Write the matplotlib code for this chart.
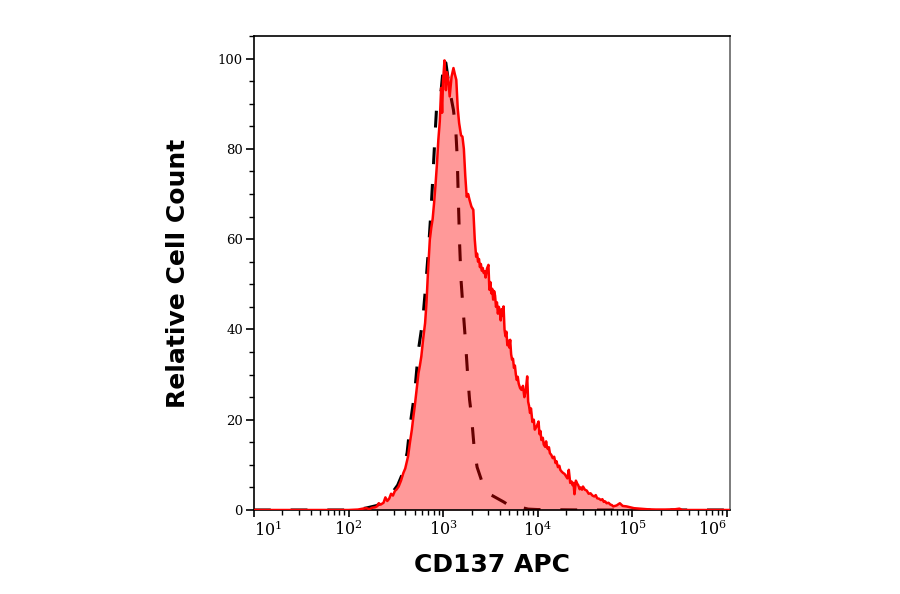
import numpy as np
import matplotlib
matplotlib.use("Agg")
import matplotlib.pyplot as plt
from matplotlib.ticker import FixedLocator, MultipleLocator, NullFormatter

# CD137 APC stained sample (log10 of fluorescence, relative count)
red_log = [1.00, 1.50, 2.00, 2.10, 2.15, 2.19, 2.22, 2.25, 2.28, 2.30, 2.32, 2.34, 2.37, 2.39,
           2.41, 2.43, 2.45, 2.47, 2.49, 2.51, 2.53, 2.555, 2.58, 2.60, 2.615, 2.63, 2.65, 2.67,
           2.685, 2.70, 2.72, 2.74, 2.755, 2.77, 2.79, 2.81, 2.825, 2.84, 2.86, 2.875, 2.89, 2.905,
           2.92, 2.935, 2.95, 2.965, 2.98, 2.99, 3.00, 3.015, 3.03, 3.04, 3.055, 3.07, 3.09, 3.11,
           3.125, 3.14, 3.155, 3.17, 3.19, 3.205, 3.22, 3.235, 3.25, 3.265, 3.28, 3.30, 3.32, 3.335,
           3.35, 3.36, 3.37, 3.38, 3.39, 3.40, 3.41, 3.42, 3.43, 3.44, 3.45, 3.465, 3.48, 3.49,
           3.50, 3.51, 3.52, 3.53, 3.54, 3.55, 3.56, 3.57, 3.58, 3.59, 3.60, 3.61, 3.62, 3.63,
           3.64, 3.65, 3.66, 3.67, 3.68, 3.69, 3.70, 3.71, 3.72, 3.73, 3.74, 3.75, 3.76, 3.77,
           3.78, 3.79, 3.80, 3.815, 3.83, 3.845, 3.86, 3.875, 3.89, 3.90, 3.91, 3.92, 3.93, 3.945,
           3.96, 3.97, 3.99, 4.01, 4.02, 4.03, 4.04, 4.055, 4.065, 4.08, 4.09, 4.10, 4.11, 4.12,
           4.13, 4.145, 4.16, 4.175, 4.19, 4.20, 4.215, 4.23, 4.24, 4.255, 4.27, 4.285, 4.30, 4.315,
           4.33, 4.345, 4.36, 4.37, 4.38, 4.39, 4.405, 4.42, 4.43, 4.445, 4.455, 4.47, 4.48, 4.50,
           4.52, 4.54, 4.56, 4.58, 4.60, 4.615, 4.63, 4.65, 4.67, 4.685, 4.70, 4.715, 4.73, 4.75,
           4.77, 4.785, 4.80, 4.835, 4.87, 4.90, 4.94, 4.98, 5.02, 5.08, 5.13, 5.17, 5.25, 5.35,
           5.45, 5.50, 5.53, 5.70, 6.05]
red_val = [0.0, 0.0, 0.0, 0.1, 0.3, 0.4, 0.2, 0.5, 0.6, 0.8, 1.5, 1.2, 1.6, 2.8,
           2.0, 2.5, 3.6, 3.2, 4.2, 4.6, 5.2, 6.5, 8.2, 9.2, 10.5, 11.9, 15.0, 17.8,
           20.5, 22.9, 26.5, 30.3, 32.0, 34.0, 38.0, 41.4, 46.0, 52.5, 59.9, 62.5, 64.5, 68.0,
           72.0, 76.5, 82.0, 86.0, 93.5, 88.0, 95.0, 99.6, 93.0, 97.0, 95.5, 91.6, 96.0, 97.9,
           96.5, 95.3, 89.0, 85.7, 83.0, 82.7, 80.0, 74.0, 69.4, 70.0, 68.7, 67.2, 66.5, 60.0,
           56.1, 56.8, 55.0, 55.6, 53.8, 54.5, 53.0, 53.6, 52.5, 52.9, 51.5, 53.5, 54.3, 48.8,
           50.5, 48.0, 49.0, 46.6, 48.5, 47.5, 45.0, 46.0, 43.5, 45.0, 44.0, 42.0, 44.5, 43.0,
           45.1, 40.0, 38.5, 39.5, 36.5, 37.5, 36.0, 37.7, 34.5, 33.3, 33.5, 31.5, 32.0, 30.0,
           28.8, 29.5, 28.0, 27.0, 26.6, 27.5, 25.0, 26.5, 29.6, 24.0, 23.0, 21.5, 22.5, 19.5,
           20.0, 17.8, 18.5, 19.6, 16.8, 17.5, 15.5, 16.0, 14.5, 14.0, 15.2, 13.8, 13.5, 13.9,
           12.6, 12.2, 11.5, 11.8, 10.4, 10.8, 9.5, 9.8, 8.9, 8.5, 8.2, 8.0, 7.5, 7.0,
           8.9, 6.0, 6.3, 5.5, 6.0, 3.5, 6.5, 5.8, 5.5, 4.6, 5.0, 4.5, 5.2, 4.5,
           4.3, 3.6, 3.7, 3.2, 3.0, 3.3, 2.6, 2.5, 2.2, 2.4, 1.8, 1.9, 1.5, 1.6,
           1.2, 1.1, 0.8, 1.0, 1.5, 0.9, 0.8, 0.6, 0.4, 0.3, 0.2, 0.15, 0.1, 0.1,
           0.15, 0.3, 0.0, 0.0, 0.0]

# isotype control (dashed)
iso_log = [1.00, 2.00, 2.10, 2.15, 2.20, 2.30, 2.38, 2.45, 2.52, 2.57, 2.62, 2.65, 2.70, 2.74,
           2.785, 2.82, 2.85, 2.87, 2.885, 2.90, 2.915, 2.93, 2.96, 2.98, 3.00, 3.01, 3.03, 3.07,
           3.11, 3.135, 3.15, 3.16, 3.175, 3.19, 3.21, 3.235, 3.26, 3.28, 3.30, 3.33, 3.36, 3.40,
           3.43, 3.46, 3.52, 3.58, 3.64, 3.70, 3.76, 3.80, 3.84, 3.90, 4.00, 4.50, 6.05]
iso_val = [0.0, 0.0, 0.1, 0.3, 0.5, 1.0, 2.0, 3.5, 5.5, 8.0, 12.7, 18.6, 26.0, 35.5,
           42.0, 50.6, 59.0, 65.5, 71.0, 77.0, 83.0, 88.6, 91.0, 93.0, 97.5, 100.0, 99.0, 93.0,
           88.6, 84.0, 78.0, 70.0, 59.0, 51.0, 45.0, 38.0, 30.0, 24.5, 21.0, 13.5, 9.5, 7.0,
           5.0, 3.8, 3.2, 2.5, 1.8, 1.0, 0.5, 1.0, 0.5, 0.2, 0.1, 0.0, 0.0]

x_ticks = [1e1, 1e2, 1e3, 1e4, 1e5, 1e6]
x_labels = ["$10^{1}$", "$10^{2}$", "$10^{3}$", "$10^{4}$", "$10^{5}$", "$10^{6}$"]
y_ticks = [0, 20, 40, 60, 80, 100]

plt.rcParams["mathtext.fontset"] = "dejavuserif"

fig = plt.figure(figsize=(9, 5.94), dpi=100)
ax = fig.add_axes([0.2822, 0.1414, 0.5289, 0.798])

red_x = 10 ** np.array(red_log)
iso_x = 10 ** np.array(iso_log)

ax.plot(iso_x, iso_val, color="black", lw=2.2, linestyle=(0, (5.5, 6.5)), zorder=1)
ax.fill_between(red_x, red_val, 0, color="red", alpha=0.4, lw=0, zorder=2)
ax.plot(red_x, red_val, color="#ff0000", lw=1.8, zorder=3)

ax.set_xscale("log")
ax.set_xlim(10 ** 1, 10 ** 6.035)
ax.set_ylim(0, 105)

ax.xaxis.set_major_locator(FixedLocator(x_ticks))
ax.set_xticklabels(x_labels, fontsize=11.5)
ax.xaxis.set_minor_formatter(NullFormatter())
labs = ax.get_xticklabels()
labs[0].set_horizontalalignment("left")
labs[-1].set_horizontalalignment("right")

ax.set_yticks(y_ticks)
ax.yaxis.set_minor_locator(MultipleLocator(5))
for t in ax.get_yticklabels():
    t.set_fontfamily("DejaVu Serif")
    t.set_fontsize(9.5)

ax.tick_params(which="major", length=6, width=1.2, pad=2)
ax.tick_params(which="minor", length=3.5, width=1)
ax.tick_params(axis="x", which="major", length=5, pad=2)

for s in ["left", "bottom", "top"]:
    ax.spines[s].set_linewidth(1.2)
    ax.spines[s].set_color("black")
ax.spines["right"].set_color("#666666")
ax.spines["right"].set_linewidth(1.2)

ax.set_xlabel("CD137 APC", fontsize=18, fontweight="bold", fontfamily="DejaVu Sans", labelpad=10)
ax.set_ylabel("Relative Cell Count", fontsize=18, fontweight="bold", fontfamily="DejaVu Sans", labelpad=20)

fig.savefig("out.png", dpi=100)
